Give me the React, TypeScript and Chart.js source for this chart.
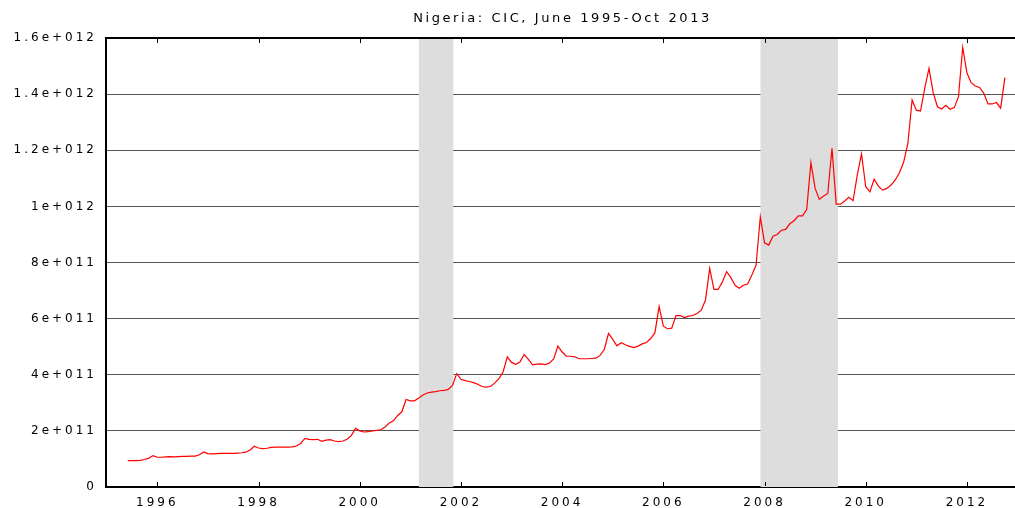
import React, { useEffect, useRef } from "react";
import { Chart, registerables } from "chart.js";

Chart.register(...registerables);

const titleText = "Nigeria: CIC, June 1995-Oct 2013";
const startYear = 1995;
const startMonth = 6; // June

// Currency in circulation, billions of naira, monthly from June 1995
const cicBillions = [
  94, 94, 94, 95, 98, 103, 112,
  106, 106, 107, 108, 107, 108, 109, 109, 110, 110, 115, 125,
  119, 118, 119, 120, 120, 120, 120, 121, 122, 124, 132, 145,
  139, 137, 138, 141, 142, 142, 142, 142, 143, 146, 155, 173,
  170, 169, 170, 163, 167, 169, 164, 162, 164, 170, 183, 209,
  200, 196, 197, 200, 202, 204, 214, 228, 236, 255, 268, 312,
  307, 307, 317, 328, 335, 338, 340, 343, 344, 348, 362, 404,
  384, 379, 376, 372, 366, 358, 356, 358, 370, 386, 410, 464,
  444, 437, 445, 472, 455, 435, 438, 439, 436, 442, 456, 502,
  481, 466, 466, 464, 457, 457, 457, 458, 459, 469, 490, 547,
  526, 503, 514, 507, 501, 497, 502, 510, 515, 529, 549, 643,
  573, 564, 566, 611, 611, 604, 609, 611, 618, 630, 666, 779,
  704, 704, 731, 767, 747, 719, 708, 719, 723, 755, 791, 963,
  870, 862, 894, 900, 915, 918, 938, 949, 966, 966, 989, 1156,
  1064, 1025, 1037, 1046, 1207, 1008, 1008, 1019, 1032, 1020, 1112, 1187,
  1070, 1052, 1097, 1072, 1058, 1064, 1076, 1094, 1120, 1158, 1225, 1379,
  1343, 1340, 1421, 1492, 1405, 1355, 1347, 1360, 1346, 1352, 1391, 1567,
  1476, 1441, 1429, 1424, 1403, 1365, 1365, 1370, 1350, 1459,
];

const xTickValues = [1996, 1998, 2000, 2002, 2004, 2006, 2008, 2010, 2012];
const yTickValues = [0, 2e11, 4e11, 6e11, 8e11, 1e12, 1.2e12, 1.4e12, 1.6e12];
const yTickLabels = ["0", "2e+011", "4e+011", "6e+011", "8e+011", "1e+012", "1.2e+012", "1.4e+012", "1.6e+012"];

const recessionStarts = [2001.17, 2007.92];
const recessionEnds = [2001.85, 2009.45];

const FONT = "'DejaVu Sans', 'Liberation Sans', sans-serif";

export default function App() {
  const canvasRef = useRef<HTMLCanvasElement | null>(null);

  useEffect(() => {
    document.body.style.margin = "0";
    const canvas = canvasRef.current;
    if (!canvas) return;

    const points = cicBillions.map((v, i) => ({
      x: startYear + (startMonth - 1) / 12 + i / 12,
      y: v * 1e9,
    }));

    const framePlugin = {
      id: "frame",
      beforeDraw(chart: any) {
        (chart.ctx as any).letterSpacing = "3px";
      },
      beforeDatasetsDraw(chart: any) {
        const { ctx, chartArea } = chart;
        const xs = chart.scales.x;
        ctx.save();
        ctx.fillStyle = "#dddddd";
        for (let k = 0; k < recessionStarts.length; k++) {
          const a = xs.getPixelForValue(recessionStarts[k]);
          const b = xs.getPixelForValue(recessionEnds[k]);
          ctx.fillRect(a, chartArea.top, b - a, chartArea.bottom - chartArea.top);
        }
        ctx.restore();
      },
      afterDatasetsDraw(chart: any) {
        const { ctx, chartArea } = chart;
        const xs = chart.scales.x;
        ctx.save();
        ctx.strokeStyle = "#000";
        ctx.lineWidth = 2;
        ctx.beginPath();
        ctx.moveTo(chartArea.left, chartArea.top);
        ctx.lineTo(chartArea.right, chartArea.top);
        ctx.stroke();
        ctx.lineWidth = 1;
        for (const v of xTickValues) {
          const px = Math.round(xs.getPixelForValue(v)) + 0.5;
          ctx.beginPath();
          ctx.moveTo(px, chartArea.bottom - 1);
          ctx.lineTo(px, chartArea.bottom - 5);
          ctx.moveTo(px, chartArea.top + 1);
          ctx.lineTo(px, chartArea.top + 5);
          ctx.stroke();
        }
        ctx.restore();
      },
      afterDraw(chart: any) {
        const { ctx, chartArea } = chart;
        ctx.save();
        (ctx as any).letterSpacing = "2.6px";
        ctx.font = `13px ${FONT}`;
        ctx.fillStyle = "#000";
        ctx.textAlign = "center";
        ctx.textBaseline = "alphabetic";
        ctx.fillText(titleText, (chartArea.left + chartArea.right) / 2 + 2, 22);
        ctx.restore();
      },
    };

    const chart = new Chart(canvas, {
      type: "line",
      data: {
        datasets: [
          {
            data: points,
            borderColor: "#ff0000",
            borderWidth: 1.2,
            pointRadius: 0,
            tension: 0,
            fill: false,
          },
        ],
      },
      options: {
        animation: false,
        responsive: false,
        maintainAspectRatio: false,
        parsing: true,
        layout: { padding: { top: 38, left: 0, right: 0, bottom: 0 } },
        plugins: {
          legend: { display: false },
          title: { display: false },
          tooltip: { enabled: false },
        },
        scales: {
          x: {
            type: "linear",
            min: 1994.986,
            max: 2012.95,
            grid: { display: false, drawTicks: false },
            border: { display: true, color: "#000", width: 2 },
            ticks: {
              color: "#000",
              font: { family: FONT, size: 12 },
              padding: 9,
              maxRotation: 0,
              autoSkip: false,
              callback: (v: any) => String(v),
            },
            afterBuildTicks: (scale: any) => {
              scale.ticks = xTickValues.map((v) => ({ value: v }));
            },
            afterFit: (scale: any) => {
              scale.height = 21;
            },
          },
          y: {
            type: "linear",
            min: 0,
            max: 1.6e12,
            grid: { color: "#555555", lineWidth: 1, drawTicks: false },
            border: { display: true, color: "#000", width: 2 },
            ticks: {
              color: "#000",
              font: { family: FONT, size: 12 },
              padding: 9,
              autoSkip: false,
              callback: (v: any) => {
                const idx = yTickValues.findIndex((t) => Math.abs(t - v) < 1e6);
                return idx >= 0 ? yTickLabels[idx] : "";
              },
            },
            afterBuildTicks: (scale: any) => {
              scale.ticks = yTickValues.map((v) => ({ value: v }));
            },
            afterFit: (scale: any) => {
              scale.width = 106;
            },
          },
        },
      },
      plugins: [framePlugin],
    });

    return () => {
      chart.destroy();
    };
  }, []);

  return (
    <div style={{ position: "absolute", left: 0, top: 0, width: 1015, height: 508, background: "#fff" }}>
      <canvas ref={canvasRef} width={1015} height={508} style={{ width: 1015, height: 508, display: "block" }} />
    </div>
  );
}
